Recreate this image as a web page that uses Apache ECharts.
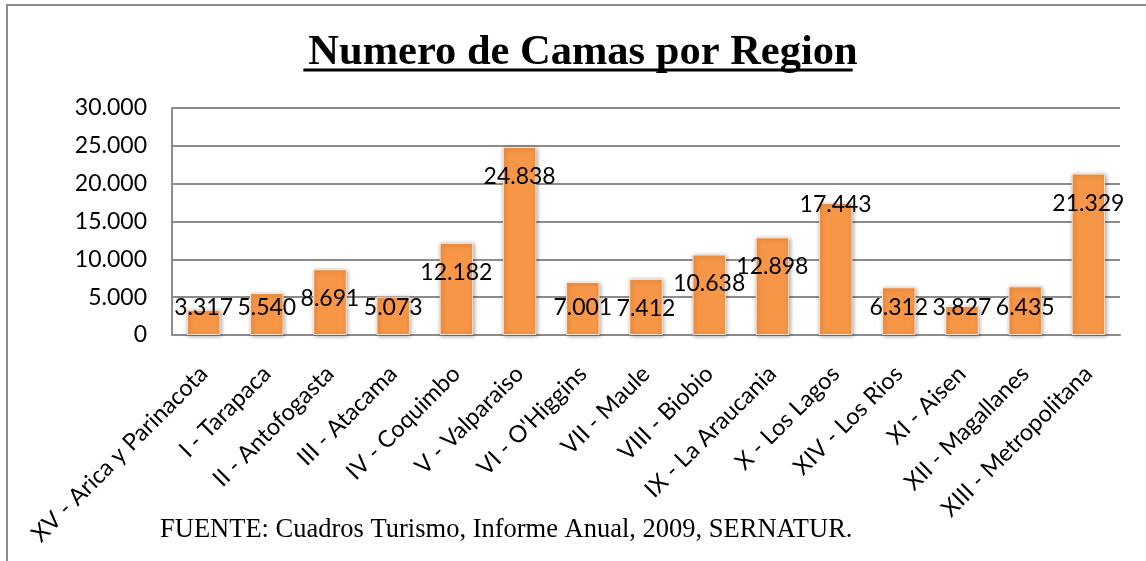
<!DOCTYPE html>
<html>
<head>
<meta charset="utf-8">
<script src="https://cdn.jsdelivr.net/npm/echarts@6/dist/echarts.min.js"></script>
<style>
html,body{margin:0;padding:0;background:#fff;}
#chart{width:1146px;height:561px;}
</style>
</head>
<body>
<div id="chart"></div>
<script>
// ---- data ----
const titleText = 'Numero de Camas por Region';
const sourceText = 'FUENTE: Cuadros Turismo, Informe Anual, 2009, SERNATUR.';
const categories = ['XV - Arica y Parinacota','I - Tarapaca','II - Antofogasta','III - Atacama','IV - Coquimbo','V - Valparaiso',"VI - O'Higgins",'VII - Maule','VIII - Biobio','IX - La Araucania','X - Los Lagos','XIV - Los Rios','XI - Aisen','XII - Magallanes','XIII - Metropolitana'];
const values = [3317,5540,8691,5073,12182,24838,7001,7412,10638,12898,17443,6312,3827,6435,21329];
const yMin = 0, yMax = 30000, yStep = 5000;

// ---- helpers ----
function fmt(v){ return String(v).replace(/\B(?=(\d{3})+(?!\d))/g,'.'); }
const titleFont = 'bold 42.5px "Liberation Serif"';
const cv = document.createElement('canvas').getContext('2d');
cv.font = titleFont;
const titleW = cv.measureText(titleText).width;
const titleCx = 578;

const labelFont = 'Lato';
const barData = values.map((v, i) => {
  let label;
  if (categories[i] === 'X - Los Lagos') {
    label = { position: 'insideTop', distance: -10 };
  } else if (v >= 7400) {
    label = { position: 'insideTop', distance: 18 };
  } else {
    label = { position: 'insideBottom', distance: 16 };
  }
  return { value: v, label: label };
});

const chart = echarts.init(document.getElementById('chart'), null, {renderer:'canvas'});
chart.setOption({
  animation: false,
  backgroundColor: '#fff',
  title: {
    text: titleText,
    left: titleCx - titleW/2,
    top: 27,
    textStyle: { fontFamily: 'Liberation Serif', fontWeight: 'bold', fontSize: 42.5, color: '#000' }
  },
  grid: { left: 172, right: 26, top: 108, bottom: 226 },
  xAxis: {
    type: 'category',
    data: categories,
    axisLine: { show: true, lineStyle: { color: '#8c8c8c', width: 2 } },
    axisTick: { show: false },
    axisLabel: { interval: 0, rotate: 45, margin: 35, fontFamily: labelFont, fontSize: 23.5, color: '#000' }
  },
  yAxis: {
    type: 'value',
    min: yMin, max: yMax, interval: yStep,
    axisLine: { show: true, lineStyle: { color: '#8c8c8c', width: 2 } },
    axisTick: { show: false },
    splitLine: { show: true, lineStyle: { color: '#8c8c8c', width: 2 } },
    axisLabel: { margin: 25, fontFamily: labelFont, fontSize: 23, color: '#000', formatter: v => fmt(v) }
  },
  series: [{
    type: 'bar',
    data: barData,
    barCategoryGap: '47%',
    itemStyle: {
      color: '#F79646',
      borderColor: '#fde3cf',
      borderWidth: 1,
      shadowColor: 'rgba(0,0,0,0.35)',
      shadowBlur: 4,
      shadowOffsetX: 1,
      shadowOffsetY: 1
    },
    label: {
      show: true,
      fontFamily: labelFont,
      fontSize: 23,
      color: '#000',
      formatter: p => fmt(p.value)
    },
    labelLayout: { hideOverlap: false }
  }],
  graphic: [
    { type: 'rect', shape: { x: 7, y: 5, width: 1200, height: 700 }, style: { fill: 'none', stroke: '#8c8c8c', lineWidth: 2 }, z: 100, silent: true },
    { type: 'line', shape: { x1: titleCx - titleW/2, y1: 70, x2: titleCx + titleW/2, y2: 70 }, style: { stroke: '#000', lineWidth: 3 }, z: 100 },
    { type: 'text', left: 160, top: 517, style: { text: sourceText, font: '26.5px "Liberation Serif"', fill: '#000' }, z: 100 }
  ]
});
</script>
</body>
</html>
